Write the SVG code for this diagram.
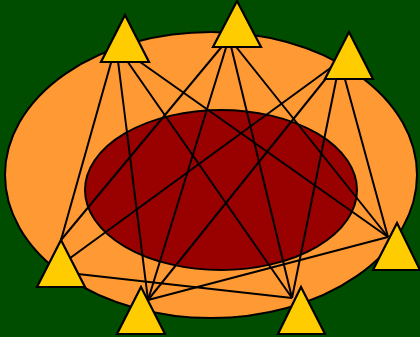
<svg xmlns="http://www.w3.org/2000/svg" width="420" height="337" viewBox="0 0 420 337">
<style>
.bg{fill:#004d00}
.outer{fill:#ff9933;stroke:#000;stroke-width:2}
.inner{fill:#990000;stroke:#000;stroke-width:2}
.tri{fill:#ffcc00;stroke:#000;stroke-width:2.2;stroke-linejoin:miter}
.edges line{stroke:#000;stroke-width:2}
</style>
<rect class="bg" x="0" y="0" width="420" height="337"/>
<ellipse class="outer" cx="211" cy="175" rx="206" ry="143"/>
<ellipse class="inner" cx="221" cy="190" rx="136" ry="80"/>
<g id="connectors" class="edges">
<line x1="116" y1="45" x2="61" y2="240"/>
<line x1="229" y1="38" x2="61" y2="240"/>
<line x1="340" y1="61" x2="62" y2="264"/>
<line x1="60" y1="272" x2="292" y2="298"/>
<line x1="116" y1="45" x2="148" y2="300"/>
<line x1="229" y1="38" x2="148" y2="300"/>
<line x1="340" y1="61" x2="148" y2="300"/>
<line x1="148" y1="300" x2="388" y2="237"/>
<line x1="116" y1="45" x2="292" y2="298"/>
<line x1="229" y1="38" x2="292" y2="298"/>
<line x1="340" y1="61" x2="292" y2="298"/>
<line x1="116" y1="45" x2="388" y2="237"/>
<line x1="229" y1="38" x2="388" y2="237"/>
<line x1="340" y1="61" x2="388" y2="237"/>
</g>
<g id="n1"><polygon class="tri" points="125,15 149,62 101,62"/></g>
<g id="n2"><polygon class="tri" points="237,1 261,47 213,47"/></g>
<g id="n3"><polygon class="tri" points="349,32 373,79 325,79"/></g>
<g id="n4"><polygon class="tri" points="61,240 85,287 37,287"/></g>
<g id="n5"><polygon class="tri" points="141,287 165,334 117,334"/></g>
<g id="n6"><polygon class="tri" points="301,287 325,334 278,334"/></g>
<g id="n7"><polygon class="tri" points="397,223 420,270 373,270"/></g>
</svg>
